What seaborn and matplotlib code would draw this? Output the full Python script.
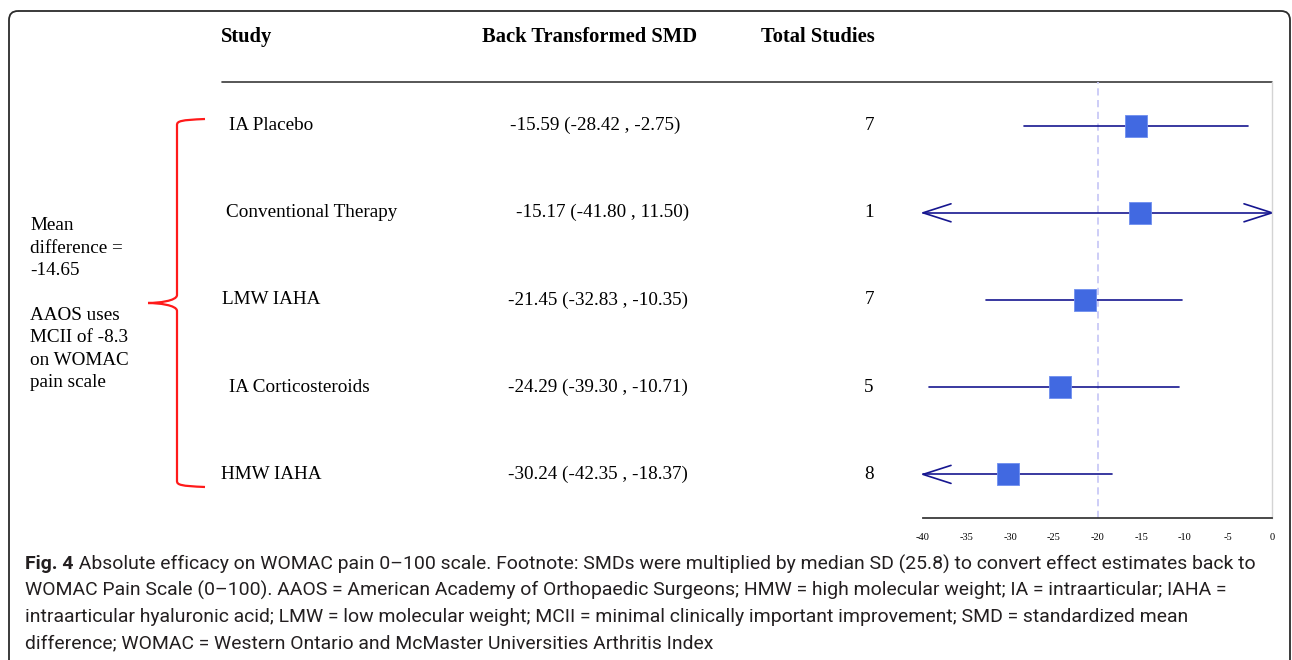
import numpy as np
import pandas as pd
import seaborn as sns
import matplotlib.pyplot as plt
from matplotlib.path import Path
from matplotlib.patches import PathPatch, FancyBboxPatch

# Forest plot data (back transformed SMD on WOMAC pain 0-100)
studies = ["IA Placebo", "Conventional Therapy", "LMW IAHA", "IA Corticosteroids", "HMW IAHA"]
smd = [-15.59, -15.17, -21.45, -24.29, -30.24]
lower = [-28.42, -41.80, -32.83, -39.30, -42.35]
upper = [-2.75, 11.50, -10.35, -10.71, -18.37]
n_studies = [7, 1, 7, 5, 8]
x_ticks = [-40, -35, -30, -25, -20, -15, -10, -5, 0]
ref_line = -20

headers = ["Study", "Back Transformed SMD", "Total Studies"]
side_note = ["Mean", "difference =", "-14.65", "", "AAOS uses", "MCII of -8.3", "on WOMAC", "pain scale"]
caption_bold = "Fig. 4"
caption_lines = [
    " Absolute efficacy on WOMAC pain 0\u2013100 scale. Footnote: SMDs were multiplied by median SD (25.8) to convert effect estimates back to",
    "WOMAC Pain Scale (0\u2013100). AAOS = American Academy of Orthopaedic Surgeons; HMW = high molecular weight; IA = intraarticular; IAHA =",
    "intraarticular hyaluronic acid; LMW = low molecular weight; MCII = minimal clinically important improvement; SMD = standardized mean",
    "difference; WOMAC = Western Ontario and McMaster Universities Arthritis Index",
]

df = pd.DataFrame({"study": studies, "smd": smd, "lower": lower, "upper": upper, "n": n_studies})
df["row"] = np.arange(len(df))

sns.set_style("white")
plt.rcParams["font.family"] = ["Liberation Serif", "DejaVu Serif"]
plt.rcParams["text.color"] = "black"
plt.rcParams["xtick.color"] = "black"

W, H = 1292, 660
fig = plt.figure(figsize=(W / 100, H / 100), dpi=100)

# overlay in pixel coordinates for the table text and decorations
ov = fig.add_axes([0, 0, 1, 1])
ov.set_xlim(0, W)
ov.set_ylim(H, 0)
ov.axis("off")

# outer rounded frame
ov.add_patch(FancyBboxPatch((9, 11), 1281, 720, boxstyle="round,pad=0,rounding_size=9",
                            fill=False, edgecolor="#2b2b2b", lw=1.3, clip_on=False))

# forest axes: -40..0 spans px 923..1272, rows between px 82 and 518
x0, x1, ytop, ybot = 923, 1272, 82, 518
ax = fig.add_axes([x0 / W, 1 - ybot / H, (x1 - x0) / W, (ybot - ytop) / H])
ax.patch.set_alpha(0)
xmin, xmax = x_ticks[0], x_ticks[-1]
ax.set_xlim(xmin, xmax)
ax.set_ylim(len(df) - 0.5, -0.5)

ax.axvline(ref_line, color="#c9c9f7", lw=1.3, ls=(0, (4, 2.5)), zorder=1)

line_col = "#161690"
ux = (xmax - xmin) / (x1 - x0)          # data units per pixel in x
uy = len(df) / (ybot - ytop)            # rows per pixel in y
for _, r in df.iterrows():
    lo, hi = max(r["lower"], xmin), min(r["upper"], xmax)
    ax.plot([lo, hi], [r["row"], r["row"]], color=line_col, lw=1.2, zorder=2, clip_on=False)
    if r["lower"] < xmin:
        ax.plot([xmin + 28 * ux, xmin, xmin + 28 * ux],
                [r["row"] - 9 * uy, r["row"], r["row"] + 9 * uy],
                color=line_col, lw=1.2, zorder=2, clip_on=False)
    if r["upper"] > xmax:
        ax.plot([xmax - 28 * ux, xmax, xmax - 28 * ux],
                [r["row"] - 9 * uy, r["row"], r["row"] + 9 * uy],
                color=line_col, lw=1.2, zorder=2, clip_on=False)

sns.scatterplot(data=df, x="smd", y="row", marker="s", s=270, color="#4169e1",
                edgecolor="#6f8ff0", linewidth=0.6, zorder=3, ax=ax, legend=False)

ax.set_xticks(x_ticks)
ax.set_xticklabels([str(t) for t in x_ticks], fontsize=7.5)
ax.set_yticks([])
ax.set_xlabel("")
ax.set_ylabel("")
for s in ["top", "left"]:
    ax.spines[s].set_visible(False)
ax.spines["bottom"].set_color("#3a3a3a")
ax.spines["bottom"].set_linewidth(1.3)
ax.spines["right"].set_color("#d4d4d4")
ax.spines["right"].set_linewidth(1.0)
ax.tick_params(axis="x", direction="out", length=5, width=1.2, color="#3a3a3a", pad=6)

# header rule
ov.plot([222, 1272], [82, 82], color="#3a3a3a", lw=1.2)

# column headers
head_x = [221, 482, 761]
for hx, h in zip(head_x, headers):
    ov.text(hx, 37, h, fontsize=14.8, fontweight="bold", ha="left", va="center")

# table rows
body = 13.8
row_y = [ytop + (ybot - ytop) * (i + 0.5) / len(df) for i in range(len(df))]
label_x = [229, 226, 222, 229, 221]
ci_x = [510, 516, 508, 508, 508]
for i, r in df.iterrows():
    ov.text(label_x[i], row_y[i], r["study"], fontsize=body, ha="left", va="center")
    ci_txt = f"{r['smd']:.2f} ({r['lower']:.2f} , {r['upper']:.2f})"
    ov.text(ci_x[i], row_y[i], ci_txt, fontsize=body, ha="left", va="center")
    ov.text(869, row_y[i], str(r["n"]), fontsize=body, ha="center", va="center")

# side note
for k, line in enumerate(side_note):
    ov.text(30, 226 + 22.4 * k, line, fontsize=body, ha="left", va="center")

# red curly brace
bx, btip, bx_end = 177, 148, 205
ytb, ymid, ybb = 119, 303, 487
verts = [(bx_end, ytb), (bx + 4, ytb + 1), (bx, ytb + 2), (bx, ytb + 6),
         (bx, ymid - 8),
         (bx, ymid - 2), (btip + 10, ymid), (btip, ymid),
         (btip + 10, ymid), (bx, ymid + 2), (bx, ymid + 8),
         (bx, ybb - 6),
         (bx, ybb - 2), (bx + 4, ybb - 1), (bx_end, ybb)]
codes = [Path.MOVETO, Path.CURVE4, Path.CURVE4, Path.CURVE4,
         Path.LINETO,
         Path.CURVE4, Path.CURVE4, Path.CURVE4,
         Path.CURVE4, Path.CURVE4, Path.CURVE4,
         Path.LINETO,
         Path.CURVE4, Path.CURVE4, Path.CURVE4]
ov.add_patch(PathPatch(Path(verts, codes), fill=False, edgecolor="#ff1a1a", lw=1.6))

# caption: fit the first line so it ends near x = 1255 like the original
cap_font = ["Roboto", "DejaVu Sans"]
cap_col = "#231f20"
cap_y = [564, 590, 617, 643]
renderer = fig.canvas.get_renderer()
px = W / fig.bbox.width
cap_size = 13.0
t_b = ov.text(25, cap_y[0], caption_bold, fontsize=cap_size, fontweight="bold", family=cap_font,
              color=cap_col, ha="left", va="center")
t_r = ov.text(0, cap_y[0], caption_lines[0], fontsize=cap_size, family=cap_font, color=cap_col,
              ha="left", va="center")
total = (t_b.get_window_extent(renderer).width + t_r.get_window_extent(renderer).width) * px
cap_size = cap_size * (1255 - 25) / total
t_b.set_fontsize(cap_size)
t_r.set_fontsize(cap_size)
t_r.set_x(t_b.get_window_extent(renderer).x1 * px)
for k in range(1, len(caption_lines)):
    ov.text(25, cap_y[k], caption_lines[k], fontsize=cap_size, family=cap_font, color=cap_col,
            ha="left", va="center")

fig.savefig("out.png", dpi=100)
